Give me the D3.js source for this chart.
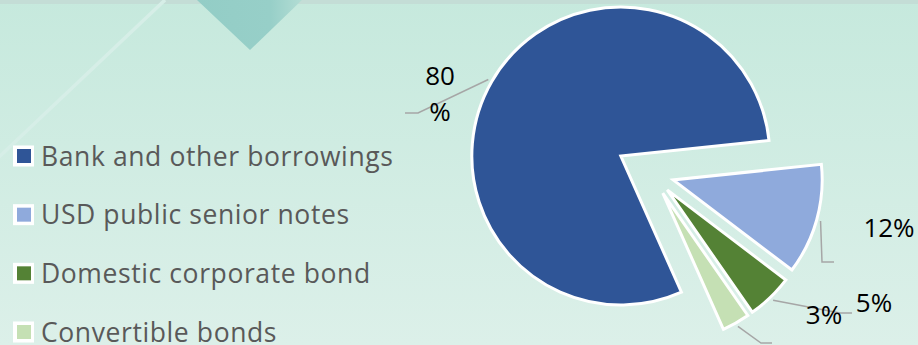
<!DOCTYPE html>
<html>
<head>
<meta charset="utf-8">
<script src="https://cdn.jsdelivr.net/npm/d3@7"></script>
<style>
  html, body { margin: 0; padding: 0; background: #cfece3; }
  svg { display: block; }
</style>
</head>
<body>
<div class="chart"></div>
<script>
'use strict';

// data
var categories = ["Bank and other borrowings", "USD public senior notes", "Domestic corporate bond", "Convertible bonds"];
var shares = [80, 12, 5, 3];
var shareLabels = ["80%", "12%", "5%", "3%"];
var colors = ["#2f5597", "#8faadc", "#548235", "#c5e0b4"];

var width = 918, height = 345;
var center = [652, 174];
var radius = 149;
var explode = [36, 22, 22, 22];
var deg = Math.PI / 180;

// label layout: text position, leader elbow and end
var labelLayout = [
  { lines: ["80", "%"], x: 440, y: 85, lineGap: 36, elbow: [418, 113], end: [405, 113] },
  { lines: ["12%"], x: 889, y: 237, elbow: [822, 262], end: [834, 262] },
  { lines: ["5%"], x: 874, y: 312, elbow: [840, 313], end: [852, 313] },
  { lines: ["3%"], x: 824, y: 324, elbow: [761, 343], end: [772, 343] }
];

var svg = d3.select(".chart").append("svg")
  .attr("width", width)
  .attr("height", height);

// background
var defs = svg.append("defs");
var bg = defs.append("linearGradient").attr("id", "bg")
  .attr("x1", 0).attr("y1", 0).attr("x2", 0).attr("y2", 1);
bg.append("stop").attr("offset", "0%").attr("stop-color", "#c6e9dd");
bg.append("stop").attr("offset", "100%").attr("stop-color", "#dcf0e9");
svg.append("rect").attr("width", width).attr("height", height).attr("fill", "url(#bg)");
svg.append("rect").attr("width", width).attr("height", 4).attr("fill", "#c4ddd6");

var tri = defs.append("linearGradient").attr("id", "tri")
  .attr("x1", 0).attr("y1", 0).attr("x2", 1).attr("y2", 0);
tri.append("stop").attr("offset", "0%").attr("stop-color", "#93cdc6");
tri.append("stop").attr("offset", "70%").attr("stop-color", "#97cfc8");
tri.append("stop").attr("offset", "100%").attr("stop-color", "#b3ddd4");
svg.append("path")
  .attr("d", "M197,0 L250,50 L302,0 Z")
  .attr("fill", "url(#tri)");
svg.append("line")
  .attr("x1", -2).attr("y1", 158).attr("x2", 165).attr("y2", 0)
  .attr("stroke", "#d6eee7").attr("stroke-width", 3.5);

// pie
var pie = d3.pie().sort(null).value(d => d)
  .startAngle(156 * deg).endAngle(516 * deg);
var arcs = pie(shares);
var arc = d3.arc().innerRadius(0).outerRadius(radius);

function offsetOf(d, i) {
  var a = (d.startAngle + d.endAngle) / 2;
  return [center[0] + explode[i] * Math.sin(a), center[1] - explode[i] * Math.cos(a)];
}

svg.append("g").selectAll("path")
  .data(arcs)
  .join("path")
  .attr("transform", (d, i) => "translate(" + offsetOf(d, i) + ")")
  .attr("d", arc)
  .attr("fill", (d, i) => colors[i])
  .attr("stroke", "#ffffff")
  .attr("stroke-width", 3)
  .attr("stroke-linejoin", "miter");

// leader lines and labels
var font = "'Open Sans', 'Noto Sans', sans-serif";
arcs.forEach(function(d, i) {
  var lay = labelLayout[i];
  var o = offsetOf(d, i);
  var a = (d.startAngle + d.endAngle) / 2;
  var start = [o[0] + (radius + 4) * Math.sin(a), o[1] - (radius + 4) * Math.cos(a)];
  svg.append("polyline")
    .attr("points", [start, lay.elbow, lay.end].map(p => p.join(",")).join(" "))
    .attr("fill", "none")
    .attr("stroke", "#a6a6a6")
    .attr("stroke-width", 1.5);

  var t = svg.append("text")
    .attr("x", lay.x)
    .attr("y", lay.y)
    .attr("text-anchor", "middle")
    .attr("font-family", font)
    .attr("font-size", 26)
    .attr("fill", "#000000");
  if (lay.lines.length > 1) {
    lay.lines.forEach(function(line, j) {
      t.append("tspan").attr("x", lay.x).attr("dy", j === 0 ? 0 : lay.lineGap).text(line);
    });
  } else {
    t.text(shareLabels[i]);
  }
});

// legend
var legendY = d3.scalePoint().domain(categories).range([156, 332]);
var legend = svg.append("g").selectAll("g")
  .data(categories)
  .join("g")
  .attr("transform", d => "translate(0," + legendY(d) + ")");

legend.append("rect")
  .attr("x", 13).attr("y", -10.5).attr("width", 21).attr("height", 21)
  .attr("fill", "#ffffff");
legend.append("rect")
  .attr("x", 17).attr("y", -7).attr("width", 14).attr("height", 14)
  .attr("fill", (d, i) => colors[i]);
legend.append("text")
  .attr("x", 41)
  .attr("y", 9.5)
  .attr("font-family", font)
  .attr("font-size", 26.5)
  .attr("letter-spacing", 0.6)
  .attr("fill", "#595959")
  .text(d => d);
</script>
</body>
</html>
